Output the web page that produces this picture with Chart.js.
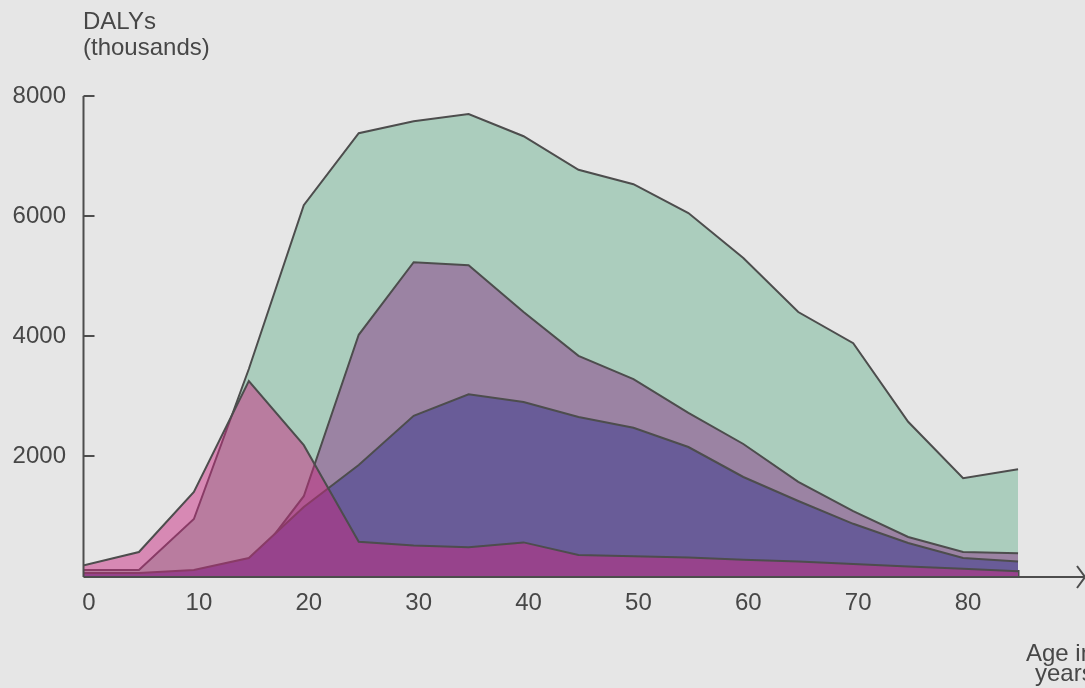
<!DOCTYPE html>
<html>
<head>
<meta charset="utf-8">
<script src="https://cdn.jsdelivr.net/npm/chart.js@4"></script>
<style>
  html, body { margin: 0; padding: 0; background: #e6e6e6; }
  #c { display: block; }
</style>
</head>
<body>
<canvas id="c" width="1085" height="688"></canvas>
<script>
// ---- data ----
const ages = [0, 5, 10, 15, 20, 25, 30, 35, 40, 45, 50, 55, 60, 65, 70, 75, 80, 85];
const seriesPink   = [180, 400, 1400, 3250, 2180, 570, 510, 480, 560, 350, 330, 310, 270, 240, 200, 160, 120, 80];
const seriesViolet = [50, 50, 100, 300, 1150, 1850, 2670, 3030, 2900, 2650, 2470, 2150, 1650, 1250, 870, 550, 300, 240];
const seriesMauve  = [40, 40, 60, 130, 1330, 4020, 5230, 5180, 4400, 3670, 3280, 2720, 2200, 1570, 1080, 650, 400, 380];
const seriesGreen  = [100, 100, 950, 3450, 6180, 7380, 7580, 7700, 7330, 6770, 6530, 6050, 5300, 4400, 3880, 2570, 1630, 1780];
const xTickValues = [0, 10, 20, 30, 40, 50, 60, 70, 80];
const yTickValues = [2000, 4000, 6000, 8000];
const yTitle = ['DALYs', '(thousands)'];
const xTitle = ['Age in', 'years'];

const FONT = '"Liberation Sans", Arial, Helvetica, sans-serif';
const INK = '#474747';
const LINE = '#4d4d4d';

function pts(vals) { return ages.map((a, i) => ({ x: a, y: vals[i] })); }

const axesPlugin = {
  id: 'axesPlugin',
  beforeDatasetsDraw(chart) {
    const { ctx, scales: { x, y } } = chart;
    const y0 = y.getPixelForValue(0) + 1;
    ctx.save();
    ctx.strokeStyle = LINE;
    ctx.lineWidth = 2;
    for (let v = 5; v <= 85; v += 5) {
      const px = Math.round(x.getPixelForValue(v)) + 0.5;
      ctx.beginPath();
      ctx.moveTo(px, y0);
      ctx.lineTo(px, y0 - 7);
      ctx.stroke();
    }
    ctx.restore();
  },
  afterDatasetsDraw(chart) {
    const { ctx, scales: { x, y } } = chart;
    const xl = x.getPixelForValue(0) - 0.5;
    const y0 = y.getPixelForValue(0) + 1;
    const yTop = y.getPixelForValue(8000);
    ctx.save();
    ctx.strokeStyle = LINE;
    ctx.lineWidth = 2;
    // y axis
    ctx.beginPath();
    ctx.moveTo(xl, yTop);
    ctx.lineTo(xl, y0);
    ctx.stroke();
    yTickValues.forEach(v => {
      const py = y.getPixelForValue(v);
      ctx.beginPath();
      ctx.moveTo(xl, py);
      ctx.lineTo(xl + 11, py);
      ctx.stroke();
    });
    // x axis with arrow
    ctx.beginPath();
    ctx.moveTo(xl, y0);
    ctx.lineTo(1084, y0);
    ctx.stroke();
    ctx.beginPath();
    ctx.moveTo(1077, y0 - 11);
    ctx.lineTo(1085, y0);
    ctx.lineTo(1077, y0 + 11);
    ctx.stroke();
    // titles
    ctx.fillStyle = INK;
    ctx.font = '24px ' + FONT;
    ctx.textAlign = 'left';
    ctx.textBaseline = 'alphabetic';
    ctx.fillText(yTitle[0], 83, 29);
    ctx.fillText(yTitle[1], 83, 55);
    ctx.fillText(xTitle[0], 1026, 661);
    ctx.fillText(xTitle[1], 1035, 681);
    ctx.restore();
  }
};

const common = { borderColor: LINE, borderWidth: 2, pointRadius: 0, tension: 0, fill: 'origin' };

new Chart(document.getElementById('c'), {
  type: 'line',
  data: {
    datasets: [
      Object.assign({ label: 'A', data: pts(seriesPink),   backgroundColor: 'rgba(200,41,128,0.49)' }, common),
      Object.assign({ label: 'B', data: pts(seriesViolet), backgroundColor: 'rgb(105,92,152)' }, common),
      Object.assign({ label: 'C', data: pts(seriesMauve),  backgroundColor: 'rgb(155,131,163)' }, common),
      Object.assign({ label: 'D', data: pts(seriesGreen),  backgroundColor: 'rgb(171,205,189)' }, common)
    ]
  },
  options: {
    responsive: false,
    animation: false,
    layout: { padding: { top: 96, right: 12, left: 0, bottom: 0 } },
    plugins: { legend: { display: false }, tooltip: { enabled: false } },
    scales: {
      x: {
        type: 'linear', min: 0, max: 90,
        grid: { display: false }, border: { display: false },
        ticks: {
          stepSize: 10, autoSkip: false, maxRotation: 0, padding: 5, labelOffset: 5,
          color: INK, font: { size: 24, family: FONT },
          callback: v => xTickValues.includes(v) ? String(v) : ''
        },
        afterFit: s => { s.height = 112; }
      },
      y: {
        min: 0, max: 8000,
        grid: { display: false }, border: { display: false },
        ticks: {
          stepSize: 2000, padding: 10,
          color: INK, font: { size: 24, family: FONT },
          callback: v => yTickValues.includes(v) ? String(v) : ''
        },
        afterFit: s => { s.width = 84; }
      }
    }
  },
  plugins: [axesPlugin]
});
</script>
</body>
</html>
